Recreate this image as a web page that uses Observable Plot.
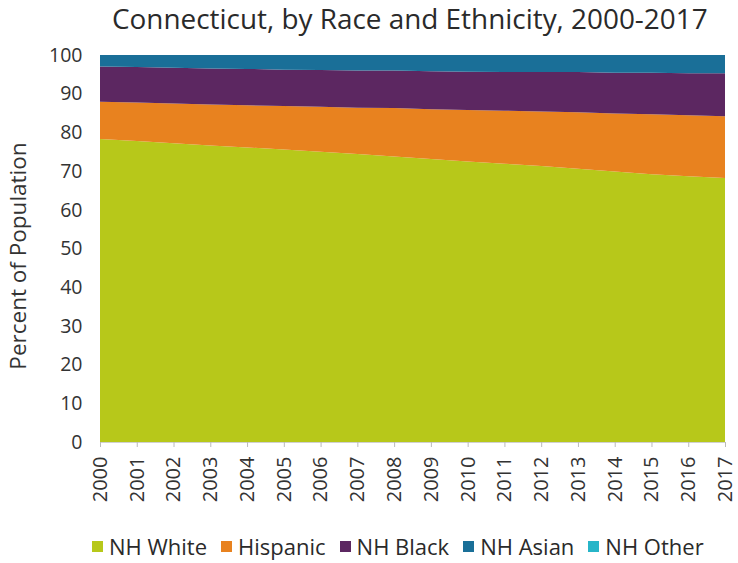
<!DOCTYPE html>
<html>
<head>
<meta charset="utf-8">
<script src="https://cdn.jsdelivr.net/npm/d3@7"></script>
<script src="https://cdn.jsdelivr.net/npm/@observablehq/plot@0.6"></script>
<style>
  html, body { margin: 0; padding: 0; background: #fff; }
  body { width: 738px; height: 563px; overflow: hidden; font-family: "Open Sans", "Noto Sans", sans-serif; color: #333; }
  #title { position: absolute; left: 112px; top: -1px; font-size: 27.9px; line-height: 38px; color: #2a2a2a; white-space: nowrap; }
  #chart { position: absolute; left: 0; top: 36px; }
  #legend { position: absolute; left: 92px; top: 531px; display: flex; gap: 14px; font-size: 22px; color: #2a2a2a; white-space: nowrap; }
  #legend span.item { display: flex; align-items: center; gap: 6px; }
  #legend span.sw { width: 11px; height: 11px; display: inline-block; }
</style>
</head>
<body>
<div id="title">Connecticut, by Race and Ethnicity, 2000-2017</div>
<div id="chart"></div>
<div id="legend"></div>
<script>
const years = [2000,2001,2002,2003,2004,2005,2006,2007,2008,2009,2010,2011,2012,2013,2014,2015,2016,2017];
const groups = ["NH White","Hispanic","NH Black","NH Asian","NH Other"];
const colors = ["#b7c81a","#e8821f","#5c2761","#1a6f98","#27b5c8"];
const nhWhite  = [78.3,77.8,77.2,76.6,76.1,75.6,75.0,74.4,73.8,73.1,72.5,71.9,71.3,70.6,69.9,69.2,68.7,68.2];
const hispanic = [9.6,9.9,10.3,10.6,10.9,11.2,11.6,12.0,12.5,12.9,13.3,13.7,14.1,14.6,15.0,15.5,15.7,16.0];
const nhBlack  = [9.1,9.2,9.2,9.3,9.4,9.4,9.5,9.6,9.7,9.8,9.9,10.0,10.2,10.4,10.5,10.7,10.9,11.1];
const nhAsian  = [3.0,3.1,3.3,3.5,3.6,3.8,3.9,4.0,4.0,4.2,4.3,4.4,4.4,4.4,4.6,4.6,4.7,4.7];
const nhOther  = [0,0,0,0,0,0,0,0,0,0,0,0,0,0,0,0,0,0];
const yTicks = [0,10,20,30,40,50,60,70,80,90,100];

const series = [nhWhite, hispanic, nhBlack, nhAsian, nhOther];
const data = [];
series.forEach((vals, gi) => vals.forEach((v, i) => data.push({year: years[i], group: groups[gi], value: v})));

const chart = Plot.plot({
  width: 738,
  height: 490,
  marginTop: 19,
  marginLeft: 100,
  marginRight: 13,
  marginBottom: 84,
  style: {fontFamily: "'Open Sans', 'Noto Sans', sans-serif", fontSize: "17px", color: "#333", background: "#fff"},
  x: {domain: [2000, 2017], label: null},
  y: {domain: [0, 100], label: null},
  color: {domain: groups, range: colors},
  marks: [
    Plot.areaY(data, {x: "year", y: "value", fill: "group", order: groups, z: "group"}),
    Plot.ruleY([0], {stroke: "#d0d0d0"}),
    Plot.axisX({ticks: years, tickFormat: d => String(d), tickRotate: -90, tickSize: 5, tickPadding: 9, stroke: "#bbb", fill: "#333", fontSize: 20, label: null}),
    Plot.axisY({ticks: yTicks, tickSize: 0, tickPadding: 18, fill: "#333", fontSize: 19.5, label: null}),
    Plot.text(["Percent of Population"], {frameAnchor: "left", textAnchor: "middle", dx: -82, dy: 7, rotate: -90, fontSize: 22.5, fill: "#333"})
  ]
});
document.getElementById("chart").appendChild(chart);

const leg = document.getElementById("legend");
groups.forEach((g, i) => {
  const it = document.createElement("span");
  it.className = "item";
  it.innerHTML = `<span class="sw" style="background:${colors[i]}"></span>${g}`;
  leg.appendChild(it);
});
</script>
</body>
</html>
